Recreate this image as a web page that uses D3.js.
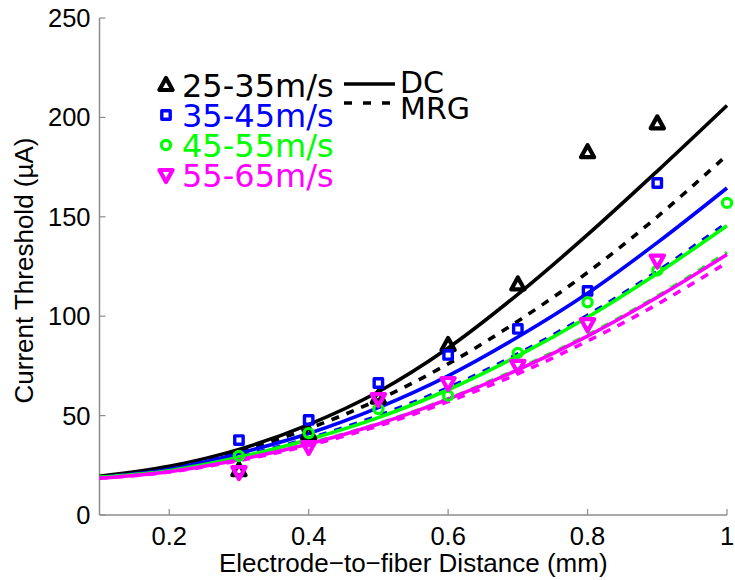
<!DOCTYPE html>
<html>
<head>
<meta charset="utf-8">
<script src="https://cdn.jsdelivr.net/npm/d3@7"></script>
<style>
  body { margin: 0; background: #fff; }
  svg { display: block; }
  .tick-label, .axis-title { font-family: "Liberation Sans", Arial, sans-serif; fill: #000; }
  .legend text { font-family: "DejaVu Sans", Verdana, sans-serif; }
</style>
</head>
<body>
<svg id="chart" width="735" height="580"></svg>
<script>
// distances (mm) at which the fitted curves were read
const curveX = [0.1, 0.2, 0.3, 0.4, 0.5, 0.6, 0.7, 0.8, 0.9, 1.0]

// fitted curves, DC (solid) and MRG (dashed)
const dc25 = [19.5, 24.5, 33, 45.5, 62, 84, 111, 141, 173, 206]
const mrg25 = [19, 23.5, 32, 43.5, 58, 76, 97.5, 122, 150, 181]
const dc35 = [19, 23, 31, 41, 54, 70, 89.5, 111.5, 137, 164.5]
const mrg35 = [19, 22.5, 29.5, 38.5, 50, 64, 81, 100.5, 122.5, 147]
const dc45 = [19, 22.3, 29, 38, 49, 63, 80, 99.5, 121.5, 145.5]
const mrg45 = [19, 22, 28, 36, 46, 58.5, 73.5, 90.5, 110, 132]
const dc55 = [18.5, 21.8, 27.8, 35.7, 45.8, 58.3, 73, 90, 109.5, 131]
const mrg55 = [18.5, 21.6, 27.4, 35, 44.8, 57, 71, 87.5, 106, 127]

// measured thresholds
const pointX = [0.3, 0.4, 0.5, 0.6, 0.7, 0.8, 0.9]
const pointX45 = [0.3, 0.4, 0.5, 0.6, 0.7, 0.8, 0.9, 1.0]
const pts25 = [22.5, 41, 59, 85.5, 116, 182.5, 197]
const pts35 = [37.7, 47.8, 66.4, 80.5, 93.6, 112.7, 167]
const pts45 = [29.7, 41.2, 53.3, 60, 81.5, 107, 123, 157]
const pts55 = [21.6, 34.2, 58.3, 66.4, 75, 96, 128]

const xTicks = [0.2, 0.4, 0.6, 0.8, 1]
const yTicks = [0, 50, 100, 150, 200, 250]
const groupLabels = ['25-35m/s', '35-45m/s', '45-55m/s', '55-65m/s']
const modelLabels = ['DC', 'MRG']

const groups = [
    { label: groupLabels[0], color: '#000000', marker: 'up',     xs: pointX,   pts: pts25, dc: dc25, mrg: mrg25 },
    { label: groupLabels[1], color: '#0000ff', marker: 'square', xs: pointX,   pts: pts35, dc: dc35, mrg: mrg35 },
    { label: groupLabels[2], color: '#00ff00', marker: 'circle', xs: pointX45, pts: pts45, dc: dc45, mrg: mrg45 },
    { label: groupLabels[3], color: '#ff00ff', marker: 'down',   xs: pointX,   pts: pts55, dc: dc55, mrg: mrg55 }
]

const svg = d3.select('#chart')
const box = { left: 99.5, right: 727, top: 18, bottom: 515 }
const axisColor = '#8c8c8c'

const x = d3.scaleLinear().domain([0.1, 1]).range([box.left, box.right])
const y = d3.scaleLinear().domain([0, 250]).range([box.bottom, box.top])

// axes (left + bottom only, ticks inward)
const axes = svg.append('g')
axes.append('line').attr('x1', box.left).attr('x2', box.left).attr('y1', box.top).attr('y2', box.bottom)
    .attr('stroke', axisColor).attr('stroke-width', 1.5)
axes.append('line').attr('x1', box.left).attr('x2', box.right).attr('y1', box.bottom).attr('y2', box.bottom)
    .attr('stroke', axisColor).attr('stroke-width', 1.5)

xTicks.forEach(t => {
    axes.append('line').attr('x1', x(t)).attr('x2', x(t)).attr('y1', box.bottom).attr('y2', box.bottom - 6)
        .attr('stroke', axisColor).attr('stroke-width', 1.2)
    axes.append('text').attr('class', 'tick-label').attr('x', x(t)).attr('y', box.bottom + 30)
        .attr('text-anchor', 'middle').style('font-size', '25.5px').text(t === 1 ? '1' : t.toFixed(1))
})
yTicks.forEach(t => {
    axes.append('line').attr('x1', box.left).attr('x2', box.left + 6).attr('y1', y(t)).attr('y2', y(t))
        .attr('stroke', axisColor).attr('stroke-width', 1.2)
    axes.append('text').attr('class', 'tick-label').attr('x', box.left - 9).attr('y', y(t) + 9)
        .attr('text-anchor', 'end').style('font-size', '25.5px').text(t)
})

axes.append('text').attr('class', 'axis-title')
    .attr('x', (box.left + box.right) / 2).attr('y', 572)
    .attr('text-anchor', 'middle').style('font-size', '26px')
    .text('Electrode\u2212to\u2212fiber Distance (mm)')
axes.append('text').attr('class', 'axis-title')
    .attr('transform', `translate(33, ${(box.top + box.bottom) / 2 + 4}) rotate(-90)`)
    .attr('text-anchor', 'middle').style('font-size', '26px')
    .text('Current Threshold (\u00b5A)')

// marker shapes (thick outline, small hole like the MATLAB markers)
function markerPath(kind) {
    if (kind === 'up') return 'M0,-7L6.6,5L-6.6,5Z'
    if (kind === 'down') return 'M0,7L6.6,-5L-6.6,-5Z'
    if (kind === 'square') return 'M-4.2,-4.2H4.2V4.2H-4.2Z'
    return d3.arc()({ innerRadius: 0, outerRadius: 4.6, startAngle: 0, endAngle: 2 * Math.PI })
}

function drawMarker(sel, g) {
    sel.attr('d', markerPath(g.marker))
        .attr('fill', 'none').attr('stroke', g.color)
        .attr('stroke-width', g.marker === 'circle' ? 3.2 : g.marker === 'square' ? 3.4 : 4.2)
        .attr('stroke-linejoin', 'round')
}

const line = d3.line().x(d => x(d[0])).y(d => y(d[1])).curve(d3.curveCatmullRom)

const curves = svg.append('g')
groups.forEach(g => {
    curves.append('path').attr('d', line(d3.zip(curveX, g.dc)))
        .attr('fill', 'none').attr('stroke', g.color).attr('stroke-width', 3.6)
    curves.append('path').attr('d', line(d3.zip(curveX, g.mrg)))
        .attr('fill', 'none').attr('stroke', g.color).attr('stroke-width', 3.6)
        .attr('stroke-dasharray', '8,8')
})

const points = svg.append('g')
groups.forEach(g => {
    points.selectAll(null).data(d3.zip(g.xs, g.pts)).join('path')
        .attr('transform', d => `translate(${x(d[0])},${y(d[1])})`)
        .call(drawMarker, g)
})

// legend: speed groups
const legend = svg.append('g').attr('class', 'legend')
groups.forEach((g, i) => {
    const cy = 85 + i * 30
    legend.append('path').attr('transform', `translate(166,${cy})`).call(drawMarker, g)
    legend.append('text').attr('x', 182).attr('y', cy + 11.5)
        .style('font-size', '32px').attr('fill', g.color).text(g.label)
})

// legend: model type
modelLabels.forEach((label, i) => {
    const ly = i === 0 ? 84 : 103
    legend.append('line').attr('x1', 344).attr('x2', 395).attr('y1', ly).attr('y2', ly)
        .attr('stroke', '#000').attr('stroke-width', 3.6)
        .attr('stroke-dasharray', i === 0 ? null : '8,11')
    legend.append('text').attr('x', 400).attr('y', i === 0 ? 93 : 119)
        .style('font-size', '30px').attr('fill', '#000').text(label)
})
</script>
</body>
</html>
